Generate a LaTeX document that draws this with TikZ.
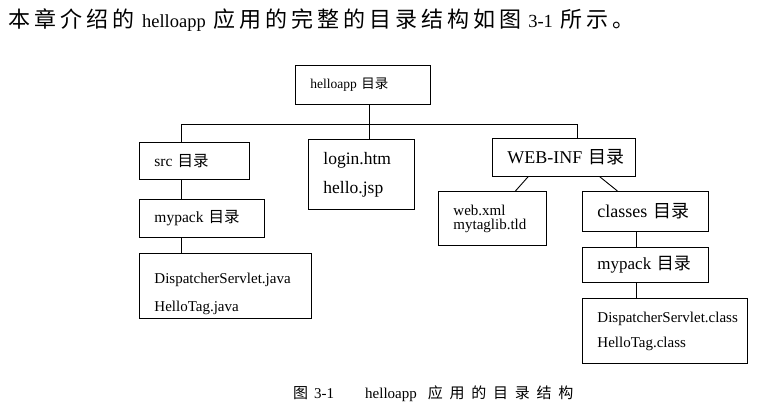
\documentclass[tikz,border=0pt]{standalone}
\usepackage{fontspec}
\setmainfont{Liberation Serif}
\newfontfamily\cjk{Noto Sans CJK SC}
\newfontfamily\cjkwide[LetterSpace=18]{Noto Sans CJK SC}
\newfontfamily\cjkcap[LetterSpace=45]{Noto Sans CJK SC}
\tikzset{
  dirbox/.style={draw, line width=0.9pt, anchor=north west, inner xsep=15pt, inner ysep=0pt, align=left},
  link/.style={line width=0.9pt}
}
\begin{document}
\begin{tikzpicture}[x=1pt,y=-1pt]
				\useasboundingbox[fill=white] (0,0) rectangle (766,413);
				\node[anchor=west, inner sep=0pt, font=\fontsize{22}{26}\selectfont] (intro) at (8,20) {{\cjkwide 本章介绍的}\hspace{8pt}{\fontsize{18.5}{26}\selectfont helloapp}\hspace{8pt}{\cjkwide 应用的完整的目录结构如图}\hspace{7pt}{\fontsize{18.5}{26}\selectfont 3-1}\hspace{8pt}{\cjkwide 所示。}};
				\node[dirbox, minimum width=135pt, minimum height=39pt, text width=105pt, font=\fontsize{13.5}{16}\selectfont] (app) at (295,65) {helloapp~{\cjk 目录}};
				\node[dirbox, minimum width=110pt, minimum height=37pt, text width=80pt, font=\fontsize{15.5}{18}\selectfont] (src) at (139,142) {src~{\cjk 目录}};
				\node[dirbox, minimum width=106pt, minimum height=70pt, text width=76pt, font=\fontsize{17.5}{29}\selectfont] (login) at (308,139) {login.htm\\hello.jsp};
				\node[dirbox, minimum width=143pt, minimum height=38pt, text width=113pt, font=\fontsize{18}{20}\selectfont] (web) at (492,138) {\mbox{WEB-INF}~{\cjk 目录}};
				\node[dirbox, minimum width=125pt, minimum height=38pt, text width=95pt, font=\fontsize{15.5}{18}\selectfont] (srcpack) at (139,199) {mypack~{\cjk 目录}};
				\node[dirbox, minimum width=172pt, minimum height=65pt, text width=142pt, font=\fontsize{15}{28}\selectfont] (java) at (139,253) {\rule{0pt}{27pt}DispatcherServlet.java\\HelloTag.java};
				\node[dirbox, minimum width=108pt, minimum height=54pt, text width=78pt, font=\fontsize{15}{14}\selectfont] (xml) at (438,191) {web.xml\\mytaglib.tld};
				\node[dirbox, minimum width=126pt, minimum height=40pt, text width=96pt, font=\fontsize{18}{20}\selectfont] (classes) at (582,191) {classes~{\cjk 目录}};
				\node[dirbox, minimum width=126pt, minimum height=35pt, text width=96pt, font=\fontsize{17}{20}\selectfont] (clspack) at (582,247) {mypack~{\cjk 目录}};
				\node[dirbox, minimum width=165pt, minimum height=65pt, text width=135pt, font=\fontsize{15}{25}\selectfont] (class) at (582,298) {DispatcherServlet.class\\HelloTag.class};
				\coordinate (busL) at (181,124);
				\coordinate (busM) at (369,124);
				\coordinate (busR) at (577,124);
				\coordinate (busC) at (636,124);
				\draw[link] (busM |- app.south) -- (busM |- login.north);
				\draw[link] (busL |- src.north) -- (busL) -- (busR) -- (busR |- web.north);
				\draw[link] (busL |- src.south) -- (busL |- srcpack.north);
				\draw[link] (busL |- srcpack.south) -- (busL |- java.north);
				\draw[link] ([xshift=-36pt]web.south) -- ([xshift=23pt]xml.north);
				\draw[link] ([xshift=36pt]web.south) -- ([xshift=-28pt]classes.north);
				\draw[link] (busC |- classes.south) -- (busC |- clspack.north);
				\draw[link] (busC |- clspack.south) -- (busC |- class.north);
				\node[anchor=west, inner sep=0pt, font=\fontsize{15}{18}\selectfont] (caption) at (293,394) {{\cjkcap 图}\hspace{6pt}3-1\hspace{31pt}helloapp\hspace{11pt}{\cjkcap 应用的目录结构}};
\end{tikzpicture}
\end{document}
